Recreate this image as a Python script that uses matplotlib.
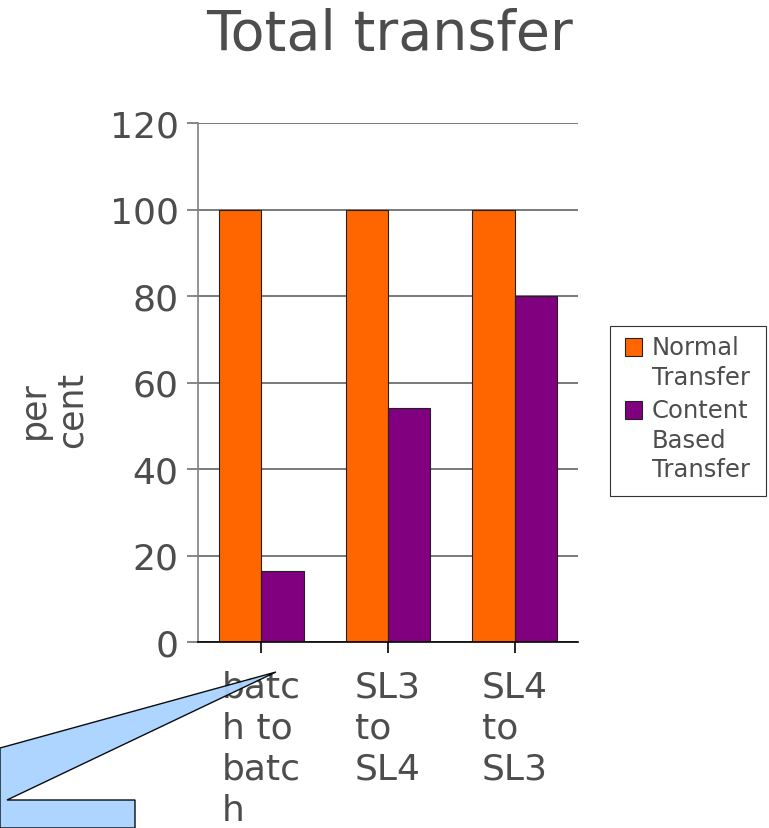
import numpy as np
import matplotlib.pyplot as plt
from matplotlib.patches import Polygon, Rectangle

# bar data
categories = ["batc\nh to\nbatc\nh", "SL3\nto\nSL4", "SL4\nto\nSL3"]
normal_transfer = [100, 100, 100]
content_transfer = [16.5, 54, 80]
series_names = ["Normal\nTransfer", "Content\nBased\nTransfer"]
series_colors = ["#ff6600", "#800080"]

txt = "#4d4d4d"
W, H = 769, 829
fig = plt.figure(figsize=(W / 100, H / 100), dpi=100)
ax = fig.add_axes([198 / W, 1 - 643 / H, 380 / W, 519 / H])

x = np.arange(len(categories)) + 0.5
w = 1 / 3
ax.bar(x - w / 2, normal_transfer, w, color=series_colors[0], edgecolor="#222222", linewidth=0.8, zorder=2)
ax.bar(x + w / 2, content_transfer, w, color=series_colors[1], edgecolor="#222222", linewidth=0.8, zorder=2)

ax.set_xlim(0, 3)
ax.set_ylim(0, 120)
ax.set_yticks(range(0, 121, 20))
ax.yaxis.grid(True, color="#555555", linewidth=1.1, zorder=0)
ax.set_axisbelow(True)
for s in ["top", "right"]:
    ax.spines[s].set_visible(False)
ax.spines["left"].set_color("#808080")
ax.spines["left"].set_linewidth(1.2)
ax.spines["bottom"].set_color("black")
ax.spines["bottom"].set_linewidth(1.2)
ax.spines["bottom"].set_zorder(3)

ax.tick_params(axis="y", colors="#666666", labelcolor=txt, labelsize=26, length=8, width=1.1, pad=6)
ax.set_xticks(x)
ax.set_xticklabels(categories, fontsize=26, color=txt, multialignment="left", linespacing=1.26)
ax.tick_params(axis="x", length=8, width=1.2, color="black", pad=12)

fig.text(390 / W, 1 - 35 / H, "Total transfer", fontsize=40, color=txt, ha="center", va="center")
fig.text(53 / W, 1 - 410 / H, "per\ncent", fontsize=25, color=txt, rotation=90,
         ha="center", va="center", linespacing=1.15)

# legend box, drawn by hand so the swatch sits on the first label line
fig.add_artist(Rectangle((610 / W, 1 - 497 / H), 156 / W, 170 / H, transform=fig.transFigure,
                         facecolor="white", edgecolor="#333333", linewidth=0.8))
for i, (name, col) in enumerate(zip(series_names, series_colors)):
    top = [339, 402][i]
    fig.add_artist(Rectangle((625 / W, 1 - (top + 18) / H), 17 / W, 18 / H, transform=fig.transFigure,
                             facecolor=col, edgecolor="#222222", linewidth=0.8))
    fig.text(652 / W, 1 - (top - 3) / H, name, fontsize=17.5, color=txt, ha="left", va="top",
             linespacing=1.3)

# callout shape in the lower left corner
pts = [(276, 673), (0, 749), (0, 829), (135, 829), (135, 801), (7, 801)]
poly = Polygon([(px / W, 1 - py / H) for px, py in pts], closed=True,
               transform=fig.transFigure, facecolor="#a9d3ff", edgecolor="black",
               linewidth=1, alpha=0.95, zorder=5)
fig.add_artist(poly)

fig.savefig("out.png", dpi=100)
